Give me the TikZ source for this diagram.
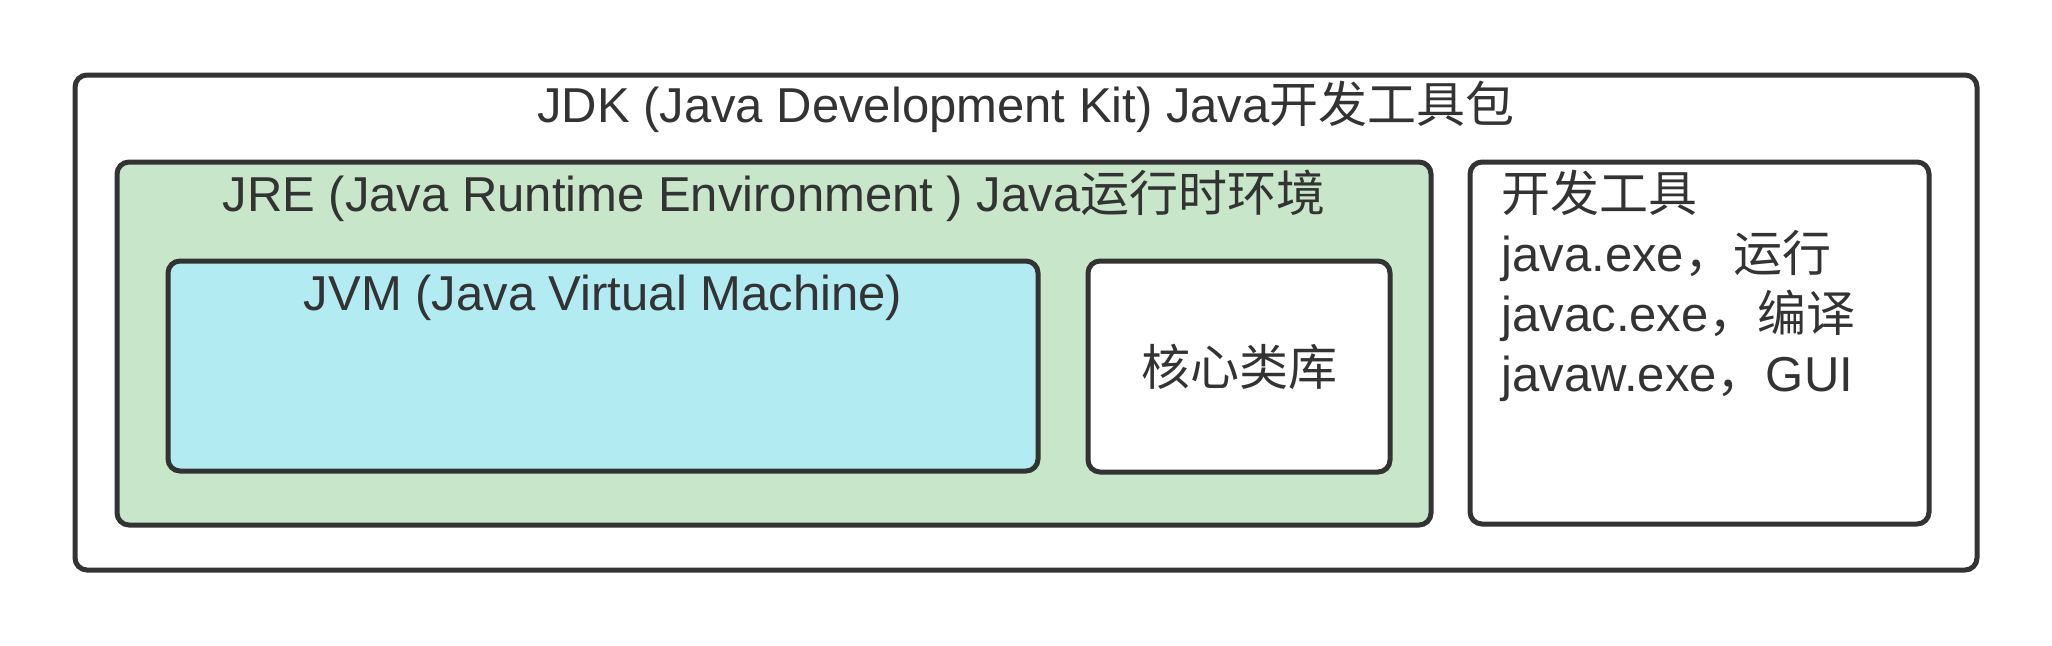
\documentclass[tikz,border=0pt]{standalone}
\usepackage{fontspec}
\setmainfont{Liberation Sans}
\newfontfamily\cjk{Noto Sans CJK SC}
\usepackage{tikz}
\usetikzlibrary{calc}
\definecolor{Rand}{RGB}{51,51,51}
\definecolor{JREgruen}{RGB}{200,230,201}
\definecolor{JVMblau}{RGB}{178,235,242}

\begin{document}
\begin{tikzpicture}[x=1pt, y=-1pt, Kasten/.style={draw=Rand, line width=5pt, rounded corners=12pt, inner sep=0pt},
		Titel/.style={text=Rand, font=\fontsize{49}{60}\selectfont, inner sep=0pt}]
				\useasboundingbox (0,0) rectangle (2052,645);
				\node[Kasten, fill=white, minimum width=1902pt, minimum height=495pt] (jdk) at (1026,322.5) {};
				\node[Kasten, fill=JREgruen, minimum width=1314pt, minimum height=363pt] (jre) at (774,343.5) {};
				\node[Kasten, fill=JVMblau, minimum width=870pt, minimum height=210pt] (jvm) at (603,366) {};
				\node[Kasten, fill=white, minimum width=302pt, minimum height=211pt] (kern) at (1239,366.5) {};
				\node[Kasten, fill=white, minimum width=459pt, minimum height=362pt] (tools) at (1699.5,343) {};
				% Beschriftungen
				\node[Titel] (t1) at ($(jdk.north) + (0,34)$) {JDK (Java Development Kit) Java{\cjk 开发工具包}};
				\node[Titel] (t2) at ($(jre.north) + (0,36)$) {JRE (Java Runtime Environment ) Java{\cjk 运行时环境}};
				\node[Titel] (t3) at ($(jvm.north) + (0,39)$) {JVM (Java Virtual Machine)};
				\node[Titel] (t4) at (kern) {\cjk 核心类库};
				\node[Titel, anchor=west, align=left] (t5) at ($(tools.west) + (34,-57)$) {{\cjk 开发工具}\\java.exe{\cjk ，运行}\\javac.exe{\cjk ，编译}\\javaw.exe{\cjk ，}GUI};
			\end{tikzpicture}
\end{document}
